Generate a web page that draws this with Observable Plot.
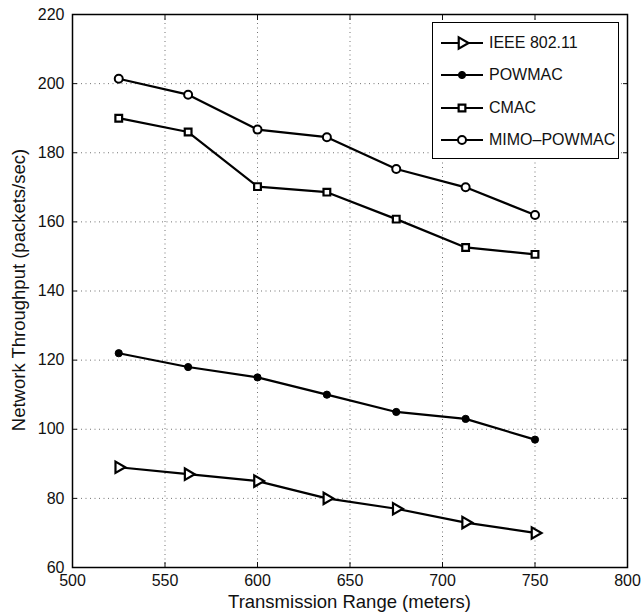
<!DOCTYPE html>
<html><head><meta charset="utf-8">
<script src="https://cdn.jsdelivr.net/npm/d3@7"></script>
<script src="https://cdn.jsdelivr.net/npm/@observablehq/plot@0.6"></script>
<style>
body{margin:0;background:#fff;font-family:"Liberation Sans",Arial,sans-serif}
#wrap{position:relative;width:643px;height:615px}
#legend{position:absolute;left:432px;top:22px;width:185px;height:135px;border:1.5px solid #000;background:#fff;box-sizing:content-box}
.row{position:absolute;left:8px;height:20px;display:flex;align-items:center;font-size:16px;color:#111}
.row svg{margin-right:6px}
#xtitle{position:absolute;left:72px;width:555px;top:591px;text-align:center;font-size:18.5px;color:#111}
#ytitle{position:absolute;left:19px;top:290px;transform:translate(-50%,-50%) rotate(-90deg);white-space:nowrap;font-size:18.5px;color:#111}
</style></head><body><div id="wrap"></div>
<script>
const ranges = [525, 562.5, 600, 637.5, 675, 712.5, 750];
const seriesNames = ["IEEE 802.11", "POWMAC", "CMAC", "MIMO\u2013POWMAC"];
const ieee = [89, 87, 85, 80, 77, 73, 70];
const powmac = [122, 118, 115, 110, 105, 103, 97];
const cmac = [190, 186, 170.2, 168.6, 160.8, 152.6, 150.6];
const mimoPowmac = [201.4, 196.8, 186.7, 184.5, 175.3, 170, 162];
const xTicks = [500, 550, 600, 650, 700, 750, 800];
const yTicks = [60, 80, 100, 120, 140, 160, 180, 200, 220];
const xTitle = "Transmission Range (meters)";
const yTitle = "Network Throughput (packets/sec)";

const seriesValues = [ieee, powmac, cmac, mimoPowmac];
const table = [];
seriesNames.forEach((s, i) => ranges.forEach((x, j) => table.push({series: s, x, y: seriesValues[i][j]})));
const of = (s) => table.filter(d => d.series === s);

const symbolStyle = {
  "IEEE 802.11": {symbol: "triangle", r: 4.2, rotate: 90, fill: "white", stroke: "#000", strokeWidth: 2.2},
  "POWMAC": {symbol: "circle", r: 3.6, fill: "#000", stroke: "#000", strokeWidth: 1},
  "CMAC": {symbol: "square", r: 3.8, fill: "white", stroke: "#000", strokeWidth: 2.2},
  "MIMO\u2013POWMAC": {symbol: "circle", r: 4, fill: "white", stroke: "#000", strokeWidth: 2}
};

const chart = Plot.plot({
  width: 643, height: 615,
  marginLeft: 72, marginRight: 16, marginTop: 14, marginBottom: 48,
  style: {fontFamily: "'Liberation Sans', Arial, sans-serif", fontSize: "16px", color: "#111", background: "white"},
  x: {domain: [500, 800]},
  y: {domain: [60, 220]},
  marks: [
    Plot.gridX(xTicks.slice(1, -1), {stroke: "#000", strokeOpacity: 0.55, strokeDasharray: "1,3.5", strokeWidth: 1}),
    Plot.gridY(yTicks.slice(1, -1), {stroke: "#000", strokeOpacity: 0.55, strokeDasharray: "1,3.5", strokeWidth: 1}),
    Plot.axisX({anchor: "bottom", ticks: xTicks, tickSize: -5, tickPadding: 12, label: null, tickFormat: d3.format("d")}),
    Plot.axisX({anchor: "top", ticks: xTicks, tickSize: -5, label: null, tickFormat: () => ""}),
    Plot.axisY({anchor: "left", ticks: yTicks, tickSize: -5, tickPadding: 13, label: null, tickFormat: d3.format("d")}),
    Plot.axisY({anchor: "right", ticks: yTicks, tickSize: -5, label: null, tickFormat: () => ""}),
    Plot.frame({stroke: "#000", strokeWidth: 1.5}),
    Plot.line(table, {x: "x", y: "y", z: "series", stroke: "#000", strokeWidth: 2.2}),
    ...seriesNames.map(s => Plot.dot(of(s), {x: "x", y: "y", ...symbolStyle[s]}))
  ]
});
const wrap = document.getElementById("wrap");
wrap.appendChild(chart);

// legend
const legend = document.createElement("div");
legend.id = "legend";
const symPath = {
  "IEEE 802.11": () => d3.symbol(d3.symbolTriangle, Math.PI * 4.2 * 4.2)(),
  "POWMAC": () => d3.symbol(d3.symbolCircle, Math.PI * 3.6 * 3.6)(),
  "CMAC": () => d3.symbol(d3.symbolSquare, Math.PI * 3.8 * 3.8)(),
  "MIMO\u2013POWMAC": () => d3.symbol(d3.symbolCircle, Math.PI * 4 * 4)()
};
seriesNames.forEach((s, i) => {
  const row = document.createElement("div");
  row.className = "row";
  row.style.top = (10 + i * 32.3) + "px";
  const st = symbolStyle[s];
  row.innerHTML = `<svg width="42" height="20"><line x1="0" x2="42" y1="10" y2="10" stroke="#000" stroke-width="2.2"/>` +
    `<path d="${symPath[s]()}" transform="translate(21,10) rotate(${st.rotate || 0})" fill="${st.fill}" stroke="#000" stroke-width="${st.strokeWidth}"/></svg><span>${s}</span>`;
  legend.appendChild(row);
});
wrap.appendChild(legend);

const xt = document.createElement("div"); xt.id = "xtitle"; xt.textContent = xTitle; wrap.appendChild(xt);
const yt = document.createElement("div"); yt.id = "ytitle"; yt.textContent = yTitle; wrap.appendChild(yt);
</script></body></html>
